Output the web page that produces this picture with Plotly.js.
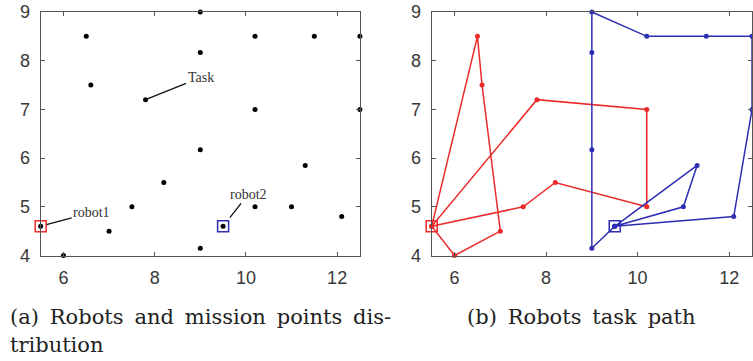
<!DOCTYPE html>
<html>
<head>
<meta charset="utf-8">
<script src="https://cdn.plot.ly/plotly-3.0.1.min.js"></script>
<style>html,body{margin:0;padding:0;background:#fff;}#chart{width:753px;height:361px;}</style>
</head>
<body>
<div id="chart"></div>
<script>
// Task (mission) points
const taskX = [6.5, 9, 10.2, 11.5, 12.5, 9, 6.6, 7.8, 10.2, 12.5, 9, 11.3, 8.2, 7.5, 10.2, 11, 12.1, 7, 9, 6];
const taskY = [8.5, 9, 8.5, 8.5, 8.5, 8.17, 7.5, 7.2, 7, 7, 6.17, 5.85, 5.5, 5, 5, 5, 4.8, 4.5, 4.15, 4];
// Robots
const robotNames = ["robot1", "robot2"];
const robotX = [5.5, 9.5];
const robotY = [4.6, 4.6];
// Task paths
const path1X = [5.5, 6.5, 6.6, 7, 6, 5.5, 7.8, 10.2, 10.2, 8.2, 7.5, 5.5];
const path1Y = [4.6, 8.5, 7.5, 4.5, 4, 4.6, 7.2, 7, 5, 5.5, 5, 4.6];
const path2X = [9.5, 9, 9, 9, 9, 10.2, 11.5, 12.5, 12.5, 12.1, 9.5, 11.3, 11, 9.5];
const path2Y = [4.6, 4.15, 6.17, 8.17, 9, 8.5, 8.5, 8.5, 7, 4.8, 4.6, 5.85, 5, 4.6];
// Tick labels
const xTicks = [6, 8, 10, 12];
const yTicks = [4, 5, 6, 7, 8, 9];
const captions = ["(a) Robots and mission points dis-", "tribution", "(b) Robots task path"];

const RED = "#ec2a2a";
const BLUE = "#2e2eb4";

const traces = [
  {x: taskX, y: taskY, xaxis: "x", yaxis: "y", mode: "markers", type: "scatter", cliponaxis: false,
   marker: {color: "#000", size: 5}},
  {x: robotX, y: robotY, xaxis: "x", yaxis: "y", mode: "markers", type: "scatter", cliponaxis: false,
   marker: {color: "#000", size: 5}},
  {x: robotX, y: robotY, xaxis: "x", yaxis: "y", mode: "markers", type: "scatter", cliponaxis: false,
   marker: {symbol: "square-open", size: 11, color: [RED, BLUE], line: {width: 1.5}}},
  {x: path1X, y: path1Y, xaxis: "x2", yaxis: "y2", mode: "lines+markers", type: "scatter", cliponaxis: false,
   line: {color: RED, width: 1.5}, marker: {color: RED, size: 5}},
  {x: path2X, y: path2Y, xaxis: "x2", yaxis: "y2", mode: "lines+markers", type: "scatter", cliponaxis: false,
   line: {color: BLUE, width: 1.5}, marker: {color: BLUE, size: 5}},
  {x: [robotX[0]], y: [robotY[0]], xaxis: "x2", yaxis: "y2", mode: "markers", type: "scatter", cliponaxis: false,
   marker: {symbol: "square-open", size: 11, color: RED, line: {width: 1.5}}},
  {x: [robotX[1]], y: [robotY[1]], xaxis: "x2", yaxis: "y2", mode: "markers", type: "scatter", cliponaxis: false,
   marker: {symbol: "square-open", size: 11, color: BLUE, line: {width: 1.5}}}
];

const tickFont = {family: "Liberation Sans, Arial, sans-serif", size: 18, color: "#383838"};
function xa(domain, anchor) {
  return {domain: domain, anchor: anchor, range: [5.5, 12.5], tickvals: xTicks, ticktext: xTicks.map(String),
    ticks: "inside", ticklen: 4, tickcolor: "#555", showline: true, mirror: "ticks", linecolor: "#555", linewidth: 1,
    showgrid: false, zeroline: false, tickfont: tickFont, ticklabelstandoff: 6};
}
function ya(domain, anchor) {
  return {domain: domain, anchor: anchor, range: [4, 9], tickvals: yTicks, ticktext: yTicks.map(String),
    ticks: "inside", ticklen: 4, tickcolor: "#555", showline: true, mirror: "ticks", linecolor: "#555", linewidth: 1,
    showgrid: false, zeroline: false, tickfont: tickFont, ticklabelstandoff: 6};
}

const labelFont = {family: "Liberation Serif, serif", size: 14, color: "#333"};
const capFont = {family: "DejaVu Serif, serif", size: 21, color: "#222"};
// widen word spacing a little, like the justified LaTeX caption
const wide = s => s.split(" ").join("\u2009 ");

const layout = {
  width: 753, height: 361,
  margin: {l: 0, r: 0, t: 0, b: 0},
  paper_bgcolor: "#fff", plot_bgcolor: "#fff",
  showlegend: false,
  xaxis: xa([0.054, 0.478], "y"),
  yaxis: ya([0.2922, 0.9668], "x"),
  xaxis2: xa([0.5733, 0.9987], "y2"),
  yaxis2: ya([0.2922, 0.9668], "x2"),
  annotations: [
    {xref: "x", yref: "y", x: taskX[7], y: taskY[7], text: "Task", showarrow: true, arrowhead: 0,
     arrowwidth: 1.3, arrowcolor: "#111", ax: 55, ay: -22, standoff: 2, font: labelFont},
    {xref: "x", yref: "y", x: robotX[0], y: robotY[0], text: robotNames[0], showarrow: true, arrowhead: 0,
     arrowwidth: 1.3, arrowcolor: "#111", ax: 51, ay: -14, standoff: 6, font: labelFont},
    {xref: "x", yref: "y", x: robotX[1], y: robotY[1], text: robotNames[1], showarrow: true, arrowhead: 0,
     arrowwidth: 1.3, arrowcolor: "#111", ax: 25, ay: -32, standoff: 11, font: labelFont},
    {xref: "paper", yref: "paper", x: 8/753, y: 1 - 316.7/361, xanchor: "left", yanchor: "middle",
     text: wide(captions[0]), showarrow: false, font: capFont},
    {xref: "paper", yref: "paper", x: 8/753, y: 1 - 345/361, xanchor: "left", yanchor: "middle",
     text: captions[1], showarrow: false, font: capFont},
    {xref: "paper", yref: "paper", x: 465/753, y: 1 - 316.7/361, xanchor: "left", yanchor: "middle",
     text: wide(captions[2]), showarrow: false, font: capFont}
  ]
};

Plotly.newPlot("chart", traces, layout, {staticPlot: true, displayModeBar: false});
</script>
</body>
</html>
